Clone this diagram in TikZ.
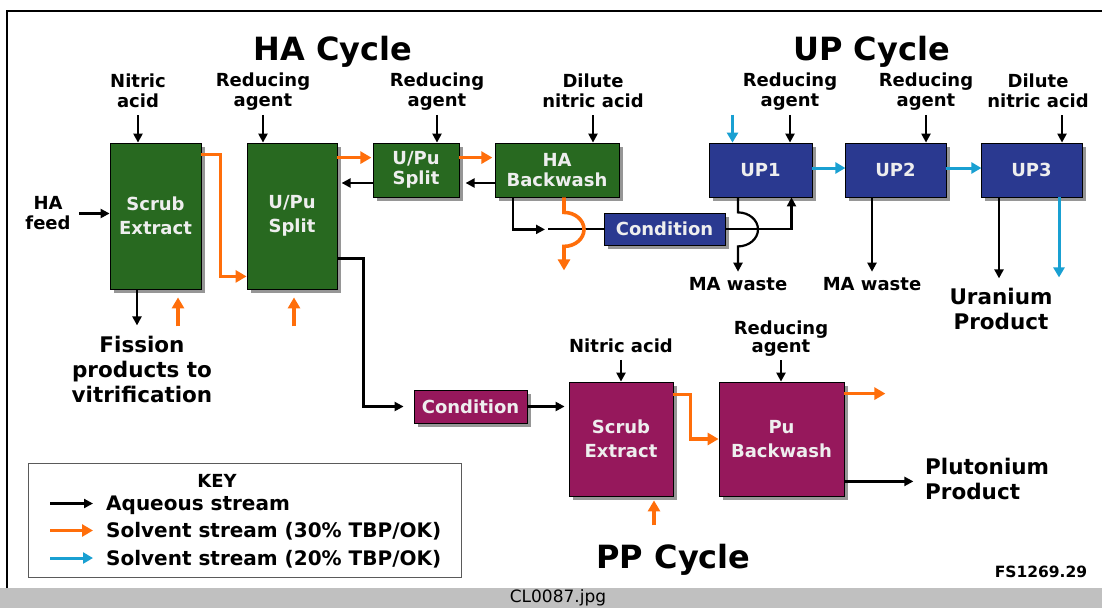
\documentclass[tikz,border=0pt]{standalone}
\usepackage{fontspec}
\setmainfont{DejaVu Sans}
\usetikzlibrary{arrows.meta,shadows,positioning}
\definecolor{hagreen}{RGB}{40,105,32}
\definecolor{upblue}{RGB}{42,57,144}
\definecolor{pppurple}{RGB}{150,24,92}
\definecolor{solvorange}{RGB}{255,110,10}
\definecolor{solvblue}{RGB}{25,160,210}
\definecolor{boxtext}{RGB}{238,238,238}
\definecolor{shadowgray}{RGB}{150,150,150}
\definecolor{keygray}{RGB}{90,90,90}
\definecolor{bargray}{RGB}{192,192,192}

\begin{document}
\begin{tikzpicture}[
  x=1pt, y=-1pt,
  every node/.style = {inner sep=0pt, font=\bfseries\fontsize{18}{20}\selectfont},
  block/.style = {
    draw,
    line width=0.8pt,
    text=boxtext,
    align=center,
    drop shadow={shadow xshift=4pt, shadow yshift=-4pt, fill=shadowgray, opacity=1}
  },
  hablock/.style = {block, fill=hagreen},
  upblock/.style = {block, fill=upblue},
  ppblock/.style = {block, fill=pppurple},
  tall/.style = {font=\bfseries\fontsize{18}{24}\selectfont},
  note/.style = {align=center},
  bignote/.style = {align=center, font=\bfseries\fontsize{21.5}{25}\selectfont},
  cycletitle/.style = {anchor=base, font=\bfseries\fontsize{32}{36}\selectfont},
  keytext/.style = {anchor=base west, font=\bfseries\fontsize{20}{22}\selectfont},
  keybox/.style = {draw=keygray, line width=1pt},
  aq/.style = {->, line width=2.2pt, >={Triangle[length=9pt,width=9pt]}},
  aqline/.style = {line width=2.2pt},
  solv1/.style = {->, draw=solvorange, line width=3.6pt, >={Triangle[length=11pt,width=12pt]}},
  solv2/.style = {->, draw=solvblue, line width=3pt, >={Triangle[length=10pt,width=11pt]}},
]
  \clip (0,0) rectangle (1102,608);
  \fill[white] (0,0) rectangle (1102,608);
  \fill[bargray] (0,588) rectangle (1102,608);
  \draw[line width=1.6pt] (7,588) -- (7,11) -- (1110,11);
  \node[font=\fontsize{17}{18}\selectfont, anchor=base] (fname) at (558,602.5) {CL0087.jpg};

  % HA cycle
  \node[cycletitle] (hatitle) at (333,60) {HA Cycle};
  \node[hablock, tall, minimum width=91pt, minimum height=146pt] (ha1) at (155.5,216) {Scrub\\Extract};
  \node[hablock, tall, minimum width=90pt, minimum height=146pt] (ha2) at (292,216) {U/Pu\\Split};
  \node[hablock, minimum width=86pt, minimum height=54pt] (ha3) at (416,170) {U/Pu\\Split};
  \node[hablock, minimum width=124pt, minimum height=54pt] (ha4) at (557,170) {HA\\Backwash};

  \node[note] (feed) at (48,213.5) {HA\\feed};
  \node[note] (nitric1) at (138,90.3) {Nitric\\acid};
  \node[note] (red1) at (263,92) {Reducing\\agent};
  \node[note] (red2) at (437,92) {Reducing\\agent};
  \node[note] (dil1) at (593,90.3) {Dilute\\nitric acid};
  \node[bignote] (fission) at (142,369) {Fission\\products to\\vitrification};

  % UP cycle
  \node[cycletitle] (uptitle) at (871.5,60) {UP Cycle};
  \node[upblock, minimum width=121pt, minimum height=32pt] (upc) at (664.5,229) {Condition};
  \node[upblock, minimum width=103pt, minimum height=54pt] (up1) at (760.5,170) {UP1};
  \node[upblock, minimum width=101pt, minimum height=54pt] (up2) at (895.5,170) {UP2};
  \node[upblock, minimum width=101pt, minimum height=54pt] (up3) at (1031.5,170) {UP3};

  \node[note] (red3) at (790,92) {Reducing\\agent};
  \node[note] (red4) at (926,92) {Reducing\\agent};
  \node[note] (dil2) at (1038,90.3) {Dilute\\nitric acid};
  \node[note, anchor=base] (ma1) at (738,290) {MA waste};
  \node[note, anchor=base] (ma2) at (872,290) {MA waste};
  \node[bignote] (uran) at (1001,309) {Uranium\\Product};

  % PP cycle
  \node[cycletitle] (pptitle) at (673.5,568) {PP Cycle};
  \node[ppblock, minimum width=113pt, minimum height=33pt] (ppc) at (470.5,406.5) {Condition};
  \node[ppblock, tall, minimum width=104pt, minimum height=114pt] (pp1) at (621,439) {Scrub\\Extract};
  \node[ppblock, tall, minimum width=125pt, minimum height=114pt] (pp2) at (781.5,439) {Pu\\Backwash};

  \node[note, anchor=base] (nitric2) at (621,352.5) {Nitric acid};
  \node[note, font=\bfseries\fontsize{18}{18}\selectfont] (red5) at (781,339) {Reducing\\agent};
  \node[bignote, align=left, anchor=west] (pluto) at (925,479.4) {Plutonium\\Product};

  % key
  \node[keybox, minimum width=433pt, minimum height=114pt] (key) at (244.5,520) {};
  \node[anchor=base] (keytitle) at (217,487) {KEY};
  \node[keytext] (kaq) at (106,510.5) {Aqueous stream};
  \node[keytext] (kso1) at (106,537.5) {Solvent stream (30\% TBP/OK)};
  \node[keytext] (kso2) at (106,565) {Solvent stream (20\% TBP/OK)};
  \node[font=\bfseries\fontsize{15.5}{16}\selectfont, anchor=base] (fsno) at (1041,577) {FS1269.29};

  % HA streams
  \draw[aq] ([xshift=8pt]feed.east) -- (feed.east -| ha1.west);
  \draw[aq] ([yshift=-8pt]nitric1.south) -- (nitric1.south |- ha1.north);
  \draw[aq] ([yshift=-4pt]red1.south) -- (red1.south |- ha2.north);
  \draw[aq] ([yshift=-4pt]red2.south) -- (red2.south |- ha3.north);
  \draw[aq] ([yshift=-8pt]dil1.south) -- (dil1.south |- ha4.north);
  \draw[solv1] ([yshift=-12pt]ha1.north east) -- ++(19,0) |- ([yshift=13pt]ha2.south west);
  \draw[aq] ([xshift=-18.5pt]ha1.south) -- ++(0,36);
  \draw[solv1] ([xshift=22.5pt,yshift=-37pt]ha1.south) -- ++(0,-29);
  \draw[solv1] ([xshift=2pt,yshift=-37pt]ha2.south) -- ++(0,-29);
  \draw[solv1] ([yshift=-15pt]ha2.north east) -- ++(34,0);
  \draw[aq] ([yshift=-13pt]ha3.west) -- ++(-31,0);
  \draw[solv1] ([yshift=-15pt]ha3.north east) -- ++(33,0);
  \draw[aq] ([yshift=-13pt]ha4.west) -- ++(-29,0);
  \draw[aq, shorten >=10pt] ([yshift=31pt]ha2.south east) -- ++(26,0) |- (ppc.west);
  \draw[aq] ([xshift=-44pt]ha4.south) -- ++(0,32) -- ++(32,0);
  \draw[aqline] (upc.west) -- ++(-56,0);
  \draw[solv1] ([xshift=7pt]ha4.south) -- ++(0,15)
    arc[start angle=-90, end angle=90, x radius=20, y radius=17] -- ++(0,24);

  % UP streams
  \draw[aq] (upc.east) -| ([xshift=31pt]up1.south);
  \draw[aq, shorten >=5pt] ([xshift=-22.5pt]up1.south) -- ++(0,15)
    arc[start angle=-90, end angle=90, x radius=20, y radius=17] -- (ma1.north);
  \draw[aq, shorten >=5pt] ([xshift=-23.5pt]up2.south) -- (ma2.north);
  \draw[solv2] ([yshift=2pt]up1.east) -- ++(33,0);
  \draw[solv2] ([yshift=2pt]up2.east) -- ++(35,0);
  \draw[solv2] ([xshift=-28pt,yshift=28pt]up1.north) -- ([xshift=-28pt]up1.north);
  \draw[aq] ([yshift=-4pt]red3.south) -- (red3.south |- up1.north);
  \draw[aq] ([yshift=-4pt]red4.south) -- (red4.south |- up2.north);
  \draw[aq] ([xshift=24pt,yshift=-8pt]dil2.south) -- ([xshift=30.5pt]up3.north);
  \draw[aq] ([xshift=-32.5pt]up3.south) -- ++(0,81);
  \draw[solv2] ([xshift=27.5pt]up3.south) -- ++(0,80);

  % PP streams
  \draw[aq, shorten >=4pt] (ppc.east) -- (pp1.west |- ppc.east);
  \draw[aq] ([yshift=-7pt]nitric2.south) -- (nitric2.south |- pp1.north);
  \draw[aq] ([yshift=-3.5pt]red5.south) -- (red5.south |- pp2.north);
  \draw[solv1] ([yshift=-13pt]pp1.north east) -- ++(17,0) |- (pp2.west);
  \draw[solv1] ([xshift=33pt,yshift=-29pt]pp1.south) -- ++(0,-25);
  \draw[solv1] ([yshift=-12pt]pp2.north east) -- ++(41,0);
  \draw[aq] ([yshift=15pt]pp2.south east) -- ++(69,0);

  % key arrows
  \draw[aq] ([xshift=-56pt,yshift=7pt]kaq.base west) -- ++(43,0);
  \draw[solv1] ([xshift=-56pt,yshift=7pt]kso1.base west) -- ++(43,0);
  \draw[solv2] ([xshift=-56pt,yshift=7pt]kso2.base west) -- ++(43,0);
\end{tikzpicture}
\end{document}
